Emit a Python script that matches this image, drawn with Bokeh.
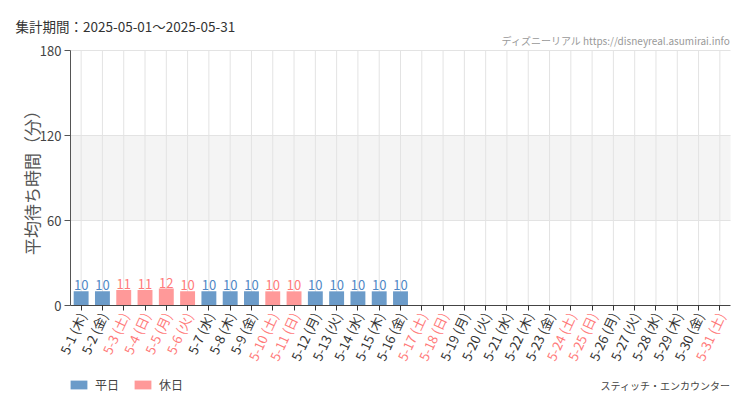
import math
from bokeh.plotting import figure
from bokeh.models import (ColumnDataSource, BoxAnnotation, Legend, LegendItem, Range1d,
                          FixedTicker, CustomJSTickFormatter)
from bokeh.core.properties import value
from bokeh.embed import file_html
from bokeh.resources import INLINE

# ---- data ----
dates = ["5-1", "5-2", "5-3", "5-4", "5-5", "5-6", "5-7", "5-8", "5-9", "5-10",
         "5-11", "5-12", "5-13", "5-14", "5-15", "5-16", "5-17", "5-18", "5-19", "5-20",
         "5-21", "5-22", "5-23", "5-24", "5-25", "5-26", "5-27", "5-28", "5-29", "5-30", "5-31"]
weekday_names = ["木", "金", "土", "日", "月", "火", "水", "木", "金", "土",
                 "日", "月", "火", "水", "木", "金", "土", "日", "月", "火",
                 "水", "木", "金", "土", "日", "月", "火", "水", "木", "金", "土"]
holiday_flags = [0, 0, 1, 1, 1, 1, 0, 0, 0, 1,
                 1, 0, 0, 0, 0, 0, 1, 1, 0, 0,
                 0, 0, 0, 1, 1, 0, 0, 0, 0, 0, 1]
wait_minutes = [10, 10, 11, 11, 12, 10, 10, 10, 10, 10, 10, 10, 10, 10, 10, 10]
y_ticks = [0, 60, 120, 180]

title_text = "集計期間：2025-05-01～2025-05-31"
site_text = "ディズニーリアル https://disneyreal.asumirai.info"
attraction = "スティッチ・エンカウンター"
y_title = "平均待ち時間（分）"
legend_labels = ["平日", "休日"]

BLUE = "#6b9bc9"
PINK = "#ff9999"
BLUE_TXT = "#4f88c6"
PINK_TXT = "#ff7a7a"
FONT = "Noto Sans CJK JP"

# ---- layout (pixels in the page) ----
W, H = 742, 402
PL, PR, PT, PB = 70, 730, 50, 305          # plot area edges
n = len(dates)
ymax = y_ticks[-1]
xs = (PR - PL) / n                          # px per category
ys = (PB - PT) / ymax                       # px per minute


def dx(px):
    return (px - PL) / xs


def dy(py):
    return (PB - py) / ys


p = figure(width=W, height=H, output_backend="svg", toolbar_location=None,
           x_range=Range1d(dx(0), dx(W)), y_range=Range1d(dy(H), dy(0)),
           min_border=0, min_border_left=0, min_border_right=0,
           min_border_top=0, min_border_bottom=0)
p.outline_line_color = None
p.background_fill_color = "white"
p.border_fill_color = "white"
p.xgrid.visible = False
p.ygrid.visible = False

centers = [i + 0.5 for i in range(n)]

# band + grid lines
p.add_layout(BoxAnnotation(left=0, right=n, bottom=y_ticks[1], top=y_ticks[2],
                           fill_color="#f4f4f4", fill_alpha=1.0, line_color=None,
                           level="underlay"))
p.segment(x0=centers, y0=[0] * n, x1=centers, y1=[ymax] * n,
          line_color="#e3e3e3", line_width=1)
p.segment(x0=[0] * 3, y0=y_ticks[1:], x1=[n] * 3, y1=y_ticks[1:],
          line_color="#e3e3e3", line_width=1)

# bars
wd = dict(x=[], v=[], lab=[])
hd = dict(x=[], v=[], lab=[])
for i, v in enumerate(wait_minutes):
    d = hd if holiday_flags[i] else wd
    d["x"].append(centers[i]); d["v"].append(v); d["lab"].append(str(v))
src_w = ColumnDataSource(wd)
src_h = ColumnDataSource(hd)
rw = p.vbar(x="x", top="v", width=0.7, source=src_w, fill_color=BLUE, line_color=None)
rh = p.vbar(x="x", top="v", width=0.7, source=src_h, fill_color=PINK, line_color=None)
p.text(x="x", y="v", text="lab", source=src_w, text_align="center", text_baseline="bottom",
       y_offset=-1, text_color=BLUE_TXT, text_font=value(FONT), text_font_size="13px")
p.text(x="x", y="v", text="lab", source=src_h, text_align="center", text_baseline="bottom",
       y_offset=-1, text_color=PINK_TXT, text_font=value(FONT), text_font_size="13px")

# axes fixed at the plot area edges
p.yaxis.fixed_location = 0
p.yaxis.bounds = (0, ymax)
p.yaxis.ticker = FixedTicker(ticks=y_ticks)
p.yaxis.minor_tick_line_color = None
p.yaxis.major_tick_in = 0
p.yaxis.major_tick_out = 6
p.yaxis.axis_line_color = "#555555"
p.yaxis.major_tick_line_color = "#555555"
p.yaxis.major_label_text_color = "#444444"
p.yaxis.major_label_text_font = FONT
p.yaxis.major_label_text_font_size = "13px"
p.yaxis.major_label_standoff = 3

p.xaxis.fixed_location = 0
p.xaxis.bounds = (0, n)
p.xaxis.ticker = FixedTicker(ticks=centers)
p.xaxis.formatter = CustomJSTickFormatter(code="return ''")
p.xaxis.minor_tick_line_color = None
p.xaxis.major_tick_in = 0
p.xaxis.major_tick_out = 5
p.xaxis.axis_line_color = "#444444"
p.xaxis.major_tick_line_color = "#333333"

# rotated category labels, coloured per day type
tick_src = ColumnDataSource(dict(
    x=centers,
    y=[dy(PB + 8)] * n,
    t=[f"{d} ({w})" for d, w in zip(dates, weekday_names)],
    c=[PINK_TXT if h else "#333333" for h in holiday_flags]))
p.text(x="x", y="y", text="t", text_color="c", source=tick_src, angle=math.radians(65),
       x_offset=1, text_align="right", text_baseline="middle",
       text_font=value(FONT), text_font_size="13px")

# other texts
p.text(x=[dx(15)], y=[dy(25)], text=[title_text], text_align="left", text_baseline="middle",
       text_color="#333333", text_font=value(FONT), text_font_size="13.5px")
p.text(x=[dx(730)], y=[dy(40)], text=[site_text], text_align="right", text_baseline="middle",
       text_color="#999999", text_font=value(FONT), text_font_size="10px")
p.text(x=[dx(31)], y=[dy(178)], text=[y_title], angle=math.pi / 2, text_align="center",
       text_baseline="middle", text_color="#555555", text_font=value(FONT),
       text_font_size="17px")
p.text(x=[dx(730)], y=[dy(385)], text=[attraction], text_align="right", text_baseline="middle",
       text_color="#444444", text_font=value(FONT), text_font_size="10px")

legend = Legend(items=[LegendItem(label=legend_labels[0], renderers=[rw]),
                       LegendItem(label=legend_labels[1], renderers=[rh])],
                location=(PL - 2, H - 393), orientation="horizontal",
                glyph_width=21, glyph_height=11, label_height=12, label_standoff=6,
                spacing=13, padding=0, margin=0, border_line_color=None,
                background_fill_alpha=0, label_text_font=FONT, label_text_font_size="12px",
                label_text_color="#444444")
p.add_layout(legend)

open("out.html", "w").write(file_html(p, INLINE))
